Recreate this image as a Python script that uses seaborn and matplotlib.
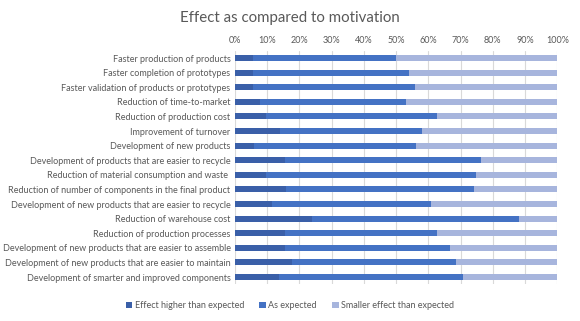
import matplotlib
matplotlib.use("Agg")
import matplotlib.pyplot as plt
import seaborn as sns
import pandas as pd
import numpy as np
from matplotlib.patches import Patch
from matplotlib.ticker import PercentFormatter

categories = [
    "Faster production of products",
    "Faster completion of prototypes",
    "Faster validation of products or prototypes",
    "Reduction of time-to-market",
    "Reduction of production cost",
    "Improvement of turnover",
    "Development of new products",
    "Development of products that are easier to recycle",
    "Reduction of material consumption and waste ",
    "Reduction of number of components in the final product",
    "Development of new products that are easier to recycle",
    "Reduction of warehouse cost",
    "Reduction of production processes",
    "Development of new products that are easier to assemble",
    "Development of new products that are easier to maintain",
    "Development of smarter and improved components",
]
higher = [5.6, 5.6, 5.6, 7.7, 9.7, 14.0, 6.0, 15.6, 9.7, 15.9, 11.6, 24.0, 15.6, 15.6, 17.7, 13.6]
as_expected = [44.4, 48.3, 50.2, 45.3, 53.1, 44.0, 50.1, 60.8, 65.0, 58.2, 49.2, 64.1, 47.2, 51.1, 50.9, 57.1]
smaller = [50.0, 46.1, 44.2, 47.0, 37.2, 42.0, 43.9, 23.6, 25.3, 25.9, 39.2, 11.9, 37.2, 33.3, 31.4, 29.3]
series_names = ["Effect higher than expected", "As expected", "Smaller effect than expected"]
colors = ["#3A5FA8", "#4472C4", "#A7B5DD"]

sns.set_theme(style="white")
plt.rcParams["font.family"] = ["Lato", "DejaVu Sans"]
text_color = "#595959"

df = pd.DataFrame({"cat": categories, "h": higher, "a": as_expected, "s": smaller})
df["cum_a"] = df["h"] + df["a"]
df["cum_s"] = df["cum_a"] + df["s"]

fig = plt.figure(figsize=(5.8, 3.21), dpi=100)
ax = fig.add_axes([0.4047, 0.1143, 0.5563, 0.7277])

ax.set_axisbelow(True)
for col, c in zip(["cum_s", "cum_a", "h"], colors[::-1]):
    sns.barplot(data=df, y="cat", x=col, color=c, orient="h", width=0.42,
                ax=ax, saturation=1, linewidth=0)

ax.set_xlim(0, 100)
ax.xaxis.set_major_formatter(PercentFormatter(decimals=0))
ax.set_xticks(np.arange(0, 101, 10))
ax.xaxis.tick_top()
ax.grid(axis="x", color="#D9D9D9", linewidth=0.8)
ax.grid(axis="y", visible=False)
for sp in ax.spines.values():
    sp.set_visible(False)
ax.set_xlabel("")
ax.set_ylabel("")
ax.tick_params(axis="both", length=0, labelsize=6.45, colors=text_color, pad=3)
ax.tick_params(axis="x", pad=4)

fig.text(0.5, 0.945, "Effect as compared to motivation", ha="center", va="center",
         fontsize=10.8, color=text_color)

handles = [Patch(facecolor=c, edgecolor="none") for c in colors]
fig.legend(handles, series_names, loc="center", bbox_to_anchor=(0.5, 0.048), ncol=3,
           frameon=False, fontsize=6.5, labelcolor=text_color, handlelength=0.7,
           handleheight=0.7, handletextpad=0.3, columnspacing=1.7)

fig.savefig("out.png", dpi=100)
